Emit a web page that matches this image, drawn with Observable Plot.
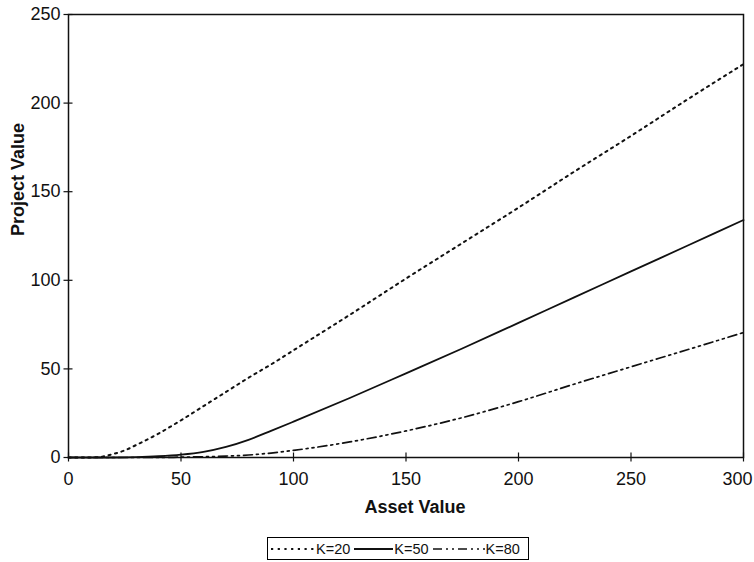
<!DOCTYPE html>
<html><head><meta charset="utf-8">
<script src="https://cdn.jsdelivr.net/npm/d3@7"></script>
<script src="https://cdn.jsdelivr.net/npm/@observablehq/plot@0.6"></script>
<style>
body{margin:0;background:#fff;font-family:"Liberation Sans",Arial,sans-serif;}
#wrap{position:relative;width:754px;height:562px;}
#legend{position:absolute;left:267px;top:537px;width:262px;height:23px;border:1px solid #000;display:flex;align-items:center;font-size:14.5px;color:#111;box-sizing:border-box;padding-left:2px;white-space:nowrap;}
#legend span.item{display:flex;align-items:center;}
#legend svg{display:block;}
</style></head>
<body><div id="wrap"><div id="chart"></div><div id="legend"></div></div>
<script>
const assetValues = [0, 10, 15, 20, 25, 30, 40, 50, 60, 70, 80, 90, 100, 125, 150, 175, 200, 225, 250, 275, 300];
const k20 = [0, 0, 0.5, 2, 4, 7, 13.5, 21, 29, 37, 45, 52.5, 60.5, 80.5, 101, 121, 141, 161.5, 181.5, 202, 222];
const k50 = [0, 0, 0, 0, 0.05, 0.2, 0.7, 1.6, 3.2, 6, 10, 15, 20.2, 33.6, 47.5, 61.5, 76, 90.5, 105, 119.5, 134];
const k80 = [0, 0, 0, 0, 0, 0, 0, 0.2, 0.4, 0.8, 1.4, 2.5, 4, 8.8, 15, 22.5, 31.5, 41.5, 51.2, 60.8, 70.5];
const seriesNames = ["K=20", "K=50", "K=80"];
const seriesDash = ["2.2,4.5", null, "9,4,2,4,2,4"];
const seriesWidth = [2, 1.8, 1.7];
const legendSampleWidth = [46, 41, 54];
const xTicks = [0, 50, 100, 150, 200, 250, 300];
const yTicks = [0, 50, 100, 150, 200, 250];

const seriesValues = [k20, k50, k80];
const lines = seriesValues.map((vals, i) =>
  Plot.line(assetValues.map((x, j) => ({x, y: vals[j]})), {
    x: "x", y: "y", stroke: "#111", strokeWidth: seriesWidth[i],
    strokeDasharray: seriesDash[i], curve: "monotone-x"
  })
);

const chart = Plot.plot({
  width: 754, height: 530,
  marginLeft: 68, marginRight: 11, marginTop: 14, marginBottom: 73,
  style: {fontFamily: "'Liberation Sans', Arial, sans-serif", fontSize: "18px", color: "#111", background: "#fff"},
  x: {domain: [0, 300]},
  y: {domain: [0, 250]},
  marks: [
    Plot.frame({stroke: "#111", strokeWidth: 1.5}),
    Plot.axisX({ticks: xTicks, tickSize: 9, dy: -4.5, text: null, label: null, strokeWidth: 1.2}),
    Plot.axisX({ticks: xTicks.slice(0, -1), tickSize: 0, tickPadding: 15, label: null, fontSize: 18}),
    Plot.axisX({ticks: xTicks.slice(-1), tickSize: 0, tickPadding: 15, label: null, fontSize: 18, textAnchor: "end", dx: 9}),
    Plot.axisY({ticks: yTicks, tickSize: 9, dx: 4.5, text: null, label: null, strokeWidth: 1.2}),
    Plot.axisY({ticks: yTicks, tickSize: 0, tickPadding: 8, label: null, fontSize: 18}),
    Plot.text(["Asset Value"], {frameAnchor: "bottom", dy: 55, dx: 9, fontWeight: "bold", fontSize: 18}),
    Plot.text(["Project Value"], {frameAnchor: "left", dx: -50, rotate: -90, fontWeight: "bold", fontSize: 18}),
    ...lines
  ]
});
document.getElementById("chart").appendChild(chart);

const legend = document.getElementById("legend");
seriesNames.forEach((name, i) => {
  const item = document.createElement("span");
  item.className = "item";
  const w = legendSampleWidth[i];
  item.innerHTML = `<svg width="${w}" height="10"><line x1="1" y1="5" x2="${w - 1}" y2="5" stroke="#111" stroke-width="${seriesWidth[i]}" ${seriesDash[i] ? `stroke-dasharray="${seriesDash[i]}"` : ""}/></svg><span style="margin-right:${i < 2 ? 3 : 0}px">${name}</span>`;
  legend.appendChild(item);
});
</script></body></html>
